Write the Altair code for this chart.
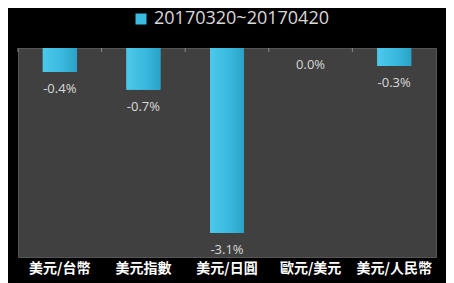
import altair as alt
import pandas as pd

categories = ["美元/台幣", "美元指數", "美元/日圓", "歐元/美元", "美元/人民幣"]
values = [-0.4, -0.7, -3.1, 0.0, -0.3]
series_name = "20170320~20170420"
labels = [f"{v:.1f}%" for v in values]

df = pd.DataFrame({
    "cat": categories,
    "value": values,
    "label": labels,
    "series": [series_name] * len(categories),
})

bar_gradient = alt.LinearGradient(
    gradient="linear",
    stops=[
        alt.GradientStop(offset=0, color="#4cc8ea"),
        alt.GradientStop(offset=0.5, color="#3bbbe0"),
        alt.GradientStop(offset=1, color="#2aa2c8"),
    ],
    x1=0, x2=1, y1=0, y2=0,
)

xscale = alt.Scale(paddingInner=0, paddingOuter=0)

x_bottom = alt.X(
    "cat:N", sort=categories, scale=xscale,
    axis=alt.Axis(
        title=None, orient="bottom", labelAngle=0,
        labelFont="Noto Sans CJK TC", labelFontWeight="bold",
        labelFontSize=14, labelColor="#ffffff", labelPadding=4,
        domain=False, ticks=False,
    ),
)

x_plain = alt.X("cat:N", sort=categories)
x_edge = alt.X("cat:N", sort=categories, bandPosition=0)

y = alt.Y("value:Q", scale=alt.Scale(domain=[-3.5, 0], nice=False), axis=None)

bars = alt.Chart(df).mark_bar(size=34).encode(
    x=x_bottom,
    y=y,
    color=alt.Color(
        "series:N",
        scale=alt.Scale(range=["#3bbbe0"]),
        legend=alt.Legend(
            title=None, orient="none", legendX=114, legendY=-38,
            symbolType="square", symbolSize=121, symbolStrokeWidth=0,
            labelFont="Open Sans", labelFontSize=18, labelColor="#d9d9d9",
            labelOffset=4, labelLimit=400, padding=0,
        ),
    ),
)

bars_shade = alt.Chart(df).mark_bar(size=34, fill=bar_gradient).encode(
    x=x_plain,
    y=y,
)

edge_ticks = alt.Chart(df).mark_rule(color="#8a8a8a", strokeWidth=1).encode(
    x=x_edge,
    y=alt.value(0),
    y2=alt.value(4),
)

text = alt.Chart(df).mark_text(
    baseline="top", dy=11, font="Open Sans", fontSize=13, color="#d9d9d9"
).encode(
    x=x_plain,
    y=y,
    text="label:N",
)

chart = (
    alt.layer(bars, bars_shade, edge_ticks, text)
    .properties(
        width=418, height=209,
        padding={"left": 10, "top": 40, "right": 10, "bottom": 26},
        autosize=alt.AutoSizeParams(type="none"),
    )
    .configure(background="#000000")
    .configure_view(fill="#404040", stroke="#555555", strokeWidth=1)
)

chart.save("out.html", embed_options={"renderer": "svg", "actions": False})
